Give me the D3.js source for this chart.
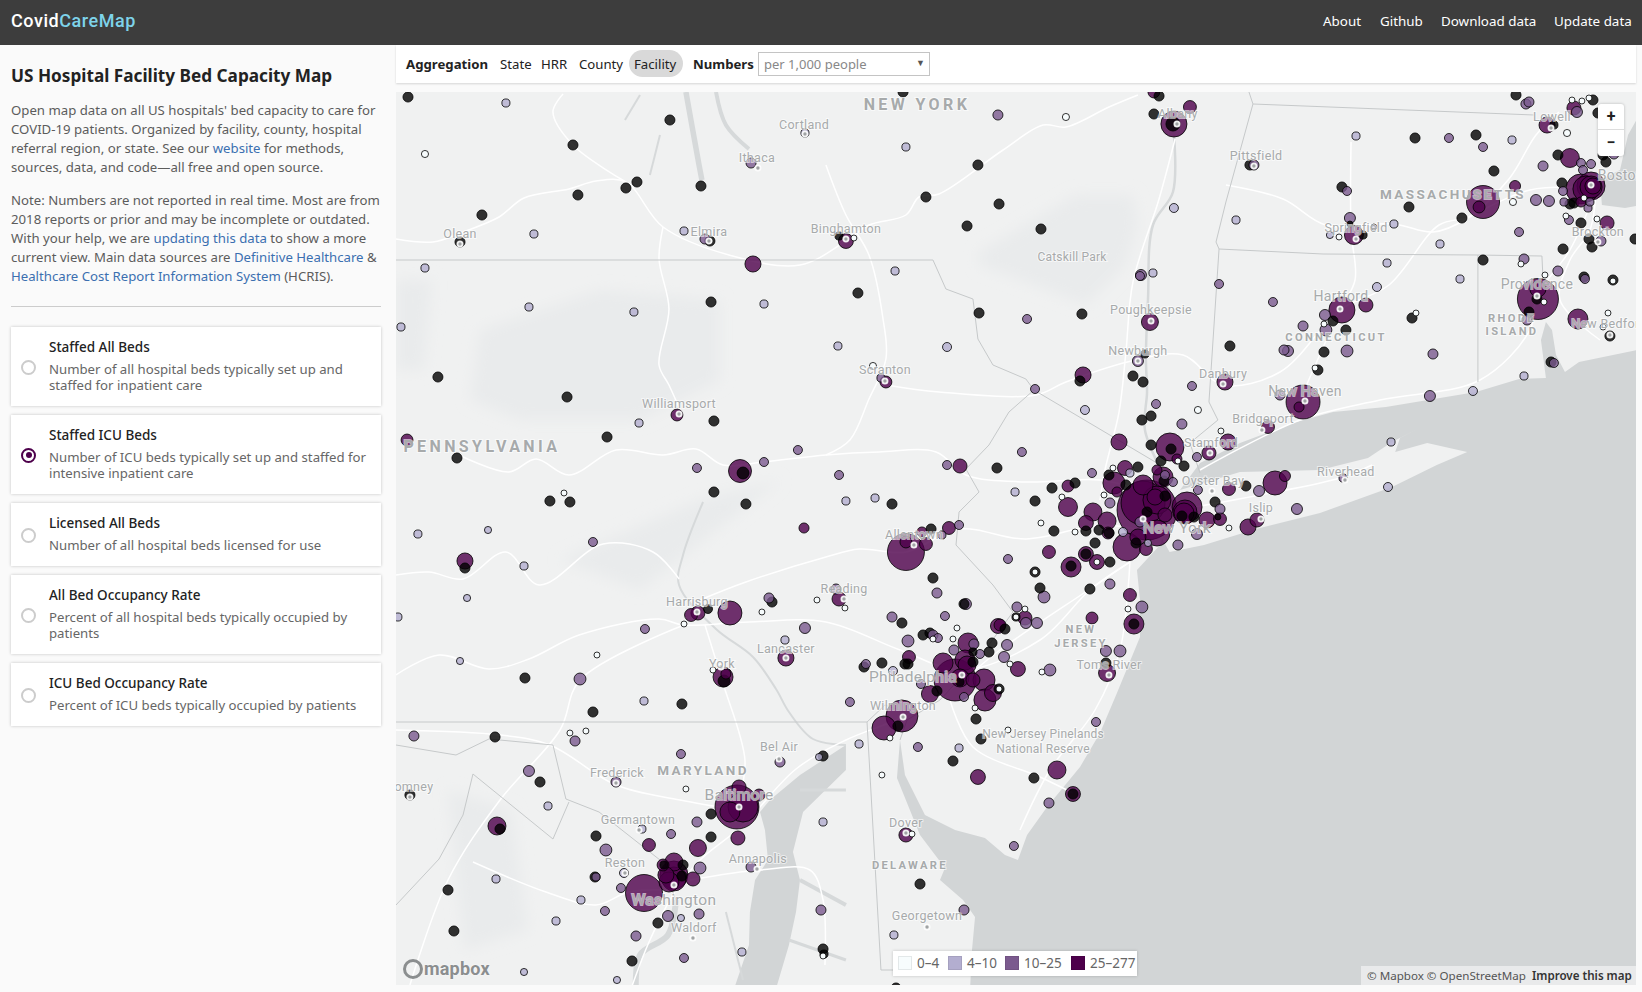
<!DOCTYPE html>
<html>
<head>
<meta charset="utf-8">
<title>CovidCareMap</title>
<script src="https://cdn.jsdelivr.net/npm/d3@7"></script>
<style>
  html, body { margin: 0; padding: 0; width: 1642px; height: 992px; overflow: hidden; background: #fafafa;
    font-family: "Noto Sans", sans-serif; color: #555; }
  #map { position: absolute; left: 0; top: 0; }
  #header { position: absolute; left: 0; top: 0; width: 1642px; height: 45px; background: #3d3d3d; }
  #logo { position: absolute; left: 11px; top: 10px; font: 500 18px Roboto, sans-serif; letter-spacing: 0.55px; color: #fff; }
  #logo span { color: #7ed3ea; }
  #nav a { position: absolute; top: 12px; color: #fff; font-size: 13.4px; }
  #side { position: absolute; left: 0; top: 45px; width: 396px; height: 947px; background: #fafafa; }
  #side h1 { position: absolute; left: 11px; top: 19px; margin: 0; font-size: 17.2px; font-weight: 700; color: #222; white-space: nowrap; }
  .para { position: absolute; left: 11px; font-size: 13.2px; line-height: 19px; white-space: nowrap; color: #5c5c5c; }
  .para a { color: #3b6fb0; }
  #rule { position: absolute; left: 11px; top: 261px; width: 370px; height: 1px; background: #ccc; }
  .card { position: absolute; left: 11px; width: 370px; background: #fff; box-shadow: 0 0 3px rgba(0,0,0,.22); }
  .card b { position: absolute; left: 38px; top: 11px; font-size: 13.5px; font-weight: 500; color: #222; white-space: nowrap; }
  .card p { position: absolute; left: 38px; top: 34px; margin: 0; font-size: 13.2px; line-height: 16px; color: #666; white-space: nowrap; }
  .radio { position: absolute; left: 10px; width: 11px; height: 11px; border: 2px solid #ccc; border-radius: 50%; }
  .radio.on { border-color: #4d004b; }
  .radio.on::after { content: ""; position: absolute; left: 2.5px; top: 2.5px; width: 6px; height: 6px; border-radius: 50%; background: #4d004b; }
  #bar { position: absolute; left: 396px; top: 45px; width: 1240px; height: 38px; background: #fff; box-shadow: 0 1px 2px rgba(0,0,0,.15); font-size: 13.2px; color: #222; }
  #bar span { position: absolute; top: 10px; white-space: nowrap; }
  #pill { position: absolute; left: 233px; top: 5px; width: 54px; height: 27px; border-radius: 14px; background: #d9d9d9; }
  #select { position: absolute; left: 362px; top: 7px; width: 170px; height: 22px; border: 1px solid #c4c4c4; color: #888; font-size: 13px; line-height: 22px; text-indent: 5px; }
  #select i { position: absolute; right: 4px; top: -1px; font-style: normal; font-size: 9px; color: #555; }
  #zoomctl { position: absolute; left: 1598px; top: 104px; width: 26px; height: 52px; background: #fff; border-radius: 3px; box-shadow: 0 0 3px rgba(0,0,0,.25); color: #222; font: 700 16px/26px Roboto, sans-serif; text-align: center; }
  #zoomctl div { height: 26px; }
  #zoomctl div:first-child { border-bottom: 1px solid #ddd; height: 25px; }
  #legend { position: absolute; left: 893px; top: 951px; width: 244px; height: 25px; background: #fff; box-shadow: 0 0 3px rgba(0,0,0,.2); font-size: 13.5px; color: #666; }
  #legend i { position: absolute; top: 5px; width: 14px; height: 14px; }
  #legend span { position: absolute; top: 3px; white-space: nowrap; }
  #attrib { position: absolute; left: 1361px; top: 966px; width: 275px; height: 19px; background: rgba(255,255,255,.5); font-size: 11.6px; line-height: 19px; color: #555; text-indent: 6px; white-space: nowrap; }
  #attrib b { color: #333; font-weight: 600; }
  #logoMb { position: absolute; left: 402px; top: 958px; font: 700 18px Roboto, sans-serif; color: #8b8e8f; letter-spacing: .2px; text-shadow: 0 0 2px #fff; }
</style>
</head>
<body>
<svg id="map" width="1642" height="992"></svg>

<div id="header">
  <div id="logo">Covid<span>CareMap</span></div>
  <div id="nav">
    <a style="left:1323px">About</a><a style="left:1380px">Github</a><a style="left:1441px">Download data</a><a style="left:1554px">Update data</a>
  </div>
</div>

<div id="side">
  <h1>US Hospital Facility Bed Capacity Map</h1>
  <div class="para" style="top:56px">Open map data on all US hospitals' bed capacity to care for<br>COVID-19 patients. Organized by facility, county, hospital<br>referral region, or state. See our <a>website</a> for methods,<br>sources, data, and code—all free and open source.</div>
  <div class="para" style="top:146px">Note: Numbers are not reported in real time. Most are from<br>2018 reports or prior and may be incomplete or outdated.<br>With your help, we are <a>updating this data</a> to show a more<br>current view. Main data sources are <a>Definitive Healthcare</a> &amp;<br><a>Healthcare Cost Report Information System</a> (HCRIS).</div>
  <div id="rule"></div>
  <div id="cards"></div>
</div>

<div id="bar">
  <span style="left:10px;font-weight:700">Aggregation</span>
  <span style="left:104px">State</span>
  <span style="left:145px">HRR</span>
  <span style="left:183px">County</span>
  <div id="pill"></div>
  <span style="left:238px">Facility</span>
  <span style="left:297px;font-weight:700">Numbers</span>
  <div id="select">per 1,000 people<i>▼</i></div>
</div>

<div id="zoomctl"><div>+</div><div>−</div></div>
<div id="logoMb"></div>
<div id="legend"></div>
<div id="attrib">© Mapbox © OpenStreetMap &nbsp;<b>Improve this map</b></div>

<script>
// hospitals by ICU bed rate class, rows are [lon, lat, beds]
const rateMissing = [
  [-78.85,42.865,20],[-77.819,42.625,20],[-77.213,42.75,20],[-77.419,42.44,20],[-77.488,42.41,20],[-77.788,42.375,20],
  [-77.019,42.42,20],[-78.388,42.275,20],[-76.956,41.84,20],[-78.663,41.465,20],[-77.856,41.365,20],[-78.525,42.14,20],
  [-76.963,42.145,20],[-75.756,42.89,20],[-75.288,42.525,20],[-75.613,42.365,20],[-75.156,42.33,20],[-75.356,42.22,20],
  [-74.894,42.205,20],[-76.156,42.17,13],[-76.038,41.885,20],[-75.281,41.785,20],[-74.638,41.78,20],[-74.244,41.58,13],
  [-74.65,41.445,20],[-74.319,41.47,20],[-74.256,41.44,20],[-73.713,41.62,20],[-74.069,42.73,39],[-74.188,42.78,20],
  [-74.156,42.87,20],[-73.588,42.525,20],[-72.556,42.66,20],[-72.175,42.675,20],[-71.925,42.875,20],[-71.444,42.85,20],
  [-71.413,42.785,20],[-71.688,42.725,13],[-71.663,42.575,20],[-71.363,42.54,20],[-71.381,42.575,20],[-72.063,42.495,20],
  [-71.638,42.435,20],[-71.588,42.33,20],[-71.563,42.335,20],[-73.013,42.415,20],[-72.963,42.23,7],[-72.881,42.175,13],
  [-72.594,42.315,20],[-72.263,42.26,20],[-71.519,42.235,20],[-71.181,42.155,20],[-71.469,42.155,20],[-71.45,42.115,20],
  [-71.631,42.105,20],[-72.131,42.05,20],[-71.5,41.965,20],[-71.319,41.95,20],[-71.794,41.855,20],[-71.844,41.79,20],
  [-71.338,41.67,20],[-71.706,41.54,20],[-73.069,41.745,20],[-72.988,41.7,20],[-72.575,41.76,20],[-73.125,41.59,20],
  [-73.163,41.5,20],[-78.544,41.06,20],[-77.606,41.165,20],[-76.938,41.245,20],[-76.756,40.985,28],[-76.938,40.89,20],
  [-76.738,40.83,20],[-77.963,40.845,20],[-77.838,40.84,20],[-78.494,40.51,20],[-78.119,39.96,20],[-77.138,39.83,20],
  [-77.694,39.79,20],[-76.975,40.305,16],[-76.575,40.34,20],[-76.875,39.945,28],[-78.306,39.665,20],[-78.025,39.44,20],
  [-78.838,39.375,20],[-78.275,39.205,20],[-77.675,39.17,20],[-76.956,39.28,20],[-76.956,39.165,20],[-76.256,39.57,20],
  [-77.131,39.025,20],[-77.25,39.025,13],[-77.138,38.97,20],[-77.681,38.965,20],[-78.6,38.9,20],[-77.288,38.735,20],
  [-78.563,38.695,20],[-77.45,38.545,20],[-76.256,38.605,20],[-76.25,38.58,13],[-75.65,38.93,20],[-75.8,38.41,20],
  [-75.825,40.83,20],[-75.169,41.01,20],[-75.581,40.705,20],[-75.569,40.46,20],[-74.263,41.25,20],[-74.206,41.27,20],
  [-74.206,41.125,20],[-74.081,41.105,20],[-74.144,41.045,20],[-74,41.02,20],[-74.288,41.015,20],[-74.469,40.975,20],
  [-74.363,40.925,20],[-74.681,40.935,20],[-74.825,40.91,20],[-74.931,40.845,20],[-74.119,40.87,20],[-74.125,40.945,20],
  [-73.613,40.92,20],[-73.806,40.84,20],[-73.788,40.765,7],[-74.013,40.77,20],[-73.938,40.765,20],[-74.3,40.635,20],
  [-74.231,40.79,20],[-74.531,40.7,20],[-74.469,40.685,20],[-74.613,40.695,20],[-74.813,40.695,20],[-74.556,40.635,20],
  [-74.613,40.58,20],[-74.463,40.54,20],[-74.706,40.52,20],[-74.931,40.49,20],[-74.9,40.41,20],[-74.588,40.405,20],
  [-74.313,40.23,20],[-75.05,40.265,13],[-75.119,40.205,20],[-75.763,40.235,20],[-75.375,40.33,20],[-75.631,40.175,20],
  [-75.588,40.185,20],[-75.725,40.03,20],[-75.744,40.03,20],[-75.888,40.035,20],[-76,40.015,20],[-75.319,40.04,20],
  [-75.319,40.09,13],[-75.2,40.135,20],[-75.219,40.09,20],[-75.4,39.94,13],[-75.156,39.905,20],[-75.544,39.895,20],
  [-75.3,39.755,20],[-75.788,39.72,20],[-75.269,39.655,20],[-75.444,39.545,20],[-74.938,39.46,20],[-74.694,39.38,20],
  [-74.488,40.035,20]
];
const rate0to4 = [
  [-78.744,42.58,10],[-76.963,42.145,7],[-74.738,42.765,10],[-76.063,42.16,7],[-75.944,41.52,10],[-73.913,41.3,10],
  [-71.575,42.85,7],[-71.513,42.845,7],[-71.469,42.86,7],[-71.606,42.685,10],[-71.944,42.34,10],[-71.5,42.36,7],
  [-73.031,42.165,7],[-71.613,42.27,7],[-71.419,42.255,7],[-71.894,42.03,7],[-71.744,41.975,7],[-71.319,41.945,7],
  [-71.75,41.84,7],[-71.35,41.785,7],[-71.381,41.715,7],[-73.125,41.73,7],[-72.55,41.785,7],[-73.181,41.51,7],
  [-77.875,40.885,7],[-77.669,40.075,7],[-77.125,40.23,7],[-76.638,40.29,7],[-76.294,40.35,7],[-76.944,40,7],
  [-77.838,39.685,7],[-77.738,39.695,7],[-77.113,39.405,7],[-76.256,38.57,7],[-74.994,40.305,7],[-76.119,40.31,7],
  [-73.769,41.195,7],[-74.038,41.045,7],[-74.444,41.01,7],[-74.763,40.865,7],[-74.5,40.875,7],[-73.719,40.71,7],
  [-74.681,40.69,7],[-74.894,40.735,7],[-74.544,40.54,7],[-74.931,40.49,7],[-74.35,40.305,7],[-75.05,40.265,7],
  [-75.419,40.21,7],[-75.444,40.155,7],[-75.569,40.155,7],[-75.088,40.03,7],[-74.888,39.99,7],[-75.156,39.905,7],
  [-75.306,39.81,7],[-75.838,39.66,7],[-75.1,39.7,7],[-75.888,39.475,7],[-75.7,39.18,7]
];
const rate4to10 = [
  [-78.238,42.835,13],[-78.063,42.18,13],[-77.125,42.195,13],[-78.744,42.01,13],[-78.094,41.815,13],[-77.438,41.79,13],
  [-78.894,41.715,13],[-76.625,41.83,13],[-76.369,42.685,13],[-75.738,42.615,13],[-75.806,41.995,13],[-76.163,41.62,13],
  [-75.481,41.615,16],[-74.063,42.31,16],[-73.675,42.25,13],[-74.194,41.985,13],[-74.619,41.3,16],[-72.925,42.67,13],
  [-71.95,42.65,13],[-73.088,42.175,10],[-72.813,42.215,7],[-72.688,42.23,13],[-72.4,42.13,13],[-72.731,42.035,13],
  [-72.275,41.955,13],[-72.794,41.915,16],[-71.875,41.47,13],[-72.194,41.395,16],[-72.706,41.14,13],[-72.725,40.915,16],
  [-77.406,41.235,13],[-78.788,40.68,13],[-78.35,40.7,10],[-78.125,40.52,13],[-78.481,40.36,10],[-78.913,40.265,13],
  [-78.525,40.045,10],[-76.494,40.15,13],[-77.375,39.845,13],[-77.975,39.32,13],[-77.388,39.205,13],[-76.281,39.565,10],
  [-76.256,39.24,13],[-77.5,38.985,16],[-78.3,38.955,13],[-77.769,38.85,13],[-77.925,38.745,13],[-77.144,38.76,10],
  [-76.763,38.59,13],[-78.125,38.49,10],[-77.544,38.45,10],[-75.813,38.675,13],[-75.056,40.89,13],[-76.113,40.845,13],
  [-75.931,40.86,13],[-74.338,40.985,13],[-74.225,40.635,10],[-74.381,40.69,16],[-76.031,39.63,13],[-75.406,39.61,13],
  [-75.819,39.995,16]
];
const rate10to25 = [
  [-76.994,42.155,20],[-76.706,42.535,20],[-75.163,42.775,20],[-74.981,41.755,16],[-75.894,41.46,13],[-73.781,41.93,16],
  [-74.269,41.975,24],[-74.275,41.97,16],[-74.288,41.545,24],[-73.95,41.42,16],[-74.931,41.405,16],[-74.175,41.33,16],
  [-73.563,42.525,20],[-72.344,42.66,16],[-72.131,42.615,16],[-71.863,42.83,20],[-71.844,42.84,20],[-71.544,42.79,24],
  [-71.519,42.535,16],[-71.456,42.53,16],[-71.313,42.58,20],[-71.756,42.52,20],[-71.8,42.35,24],[-71.719,42.345,24],
  [-71.631,42.395,16],[-71.625,42.34,13],[-71.475,42.31,13],[-71.463,42.34,13],[-71.506,42.5,16],[-72.981,42.395,16],
  [-72.963,42.26,24],[-71.906,42.19,16],[-71.594,42.25,16],[-71.394,42.145,20],[-71.875,42.055,20],[-71.663,41.995,20],
  [-71.494,41.955,16],[-71.856,41.75,20],[-71.688,41.535,16],[-72.463,41.37,24],[-72.444,41.58,20],[-73.119,41.775,24],
  [-73.113,41.7,28],[-73.256,41.72,20],[-73.444,41.84,16],[-73.375,41.6,20],[-73.35,41.595,24],[-72.981,41.595,28],
  [-73.4,41.375,20],[-73.006,40.96,13],[-73.294,40.805,24],[-76.413,41.1,16],[-76.625,41.04,16],[-77.044,41.01,16],
  [-77.694,40.64,16],[-76.594,40.36,20],[-76.369,40.21,24],[-77.775,39.955,28],[-77.369,40.205,16],[-78.813,39.67,20],
  [-77.806,39.645,20],[-78.094,39.495,24],[-77.613,39.1,28],[-77.55,39.44,20],[-77.206,39.18,16],[-77.144,39.58,16],
  [-77.044,39.24,20],[-76.525,39.54,20],[-76.706,39.015,20],[-77.025,39.01,28],[-77.519,38.91,16],[-77.675,38.965,13],
  [-77.619,38.795,16],[-77.225,38.77,24],[-77.031,38.78,20],[-77.425,38.67,20],[-77.125,38.56,16],[-76.269,38.8,20],
  [-75.375,38.8,20],[-76.156,40.975,16],[-75.481,41.025,16],[-75.013,41.09,16],[-75.406,40.725,16],[-75.513,40.675,13],
  [-75.1,40.555,16],[-75.544,40.385,20],[-75.363,40.33,24],[-75.044,40.315,20],[-76.175,40.405,20],[-74.013,41.23,20],
  [-73.919,41.065,16],[-74.575,40.985,16],[-74.119,40.975,16],[-74.069,40.94,16],[-73.913,40.9,16],[-73.531,40.895,24],
  [-73.775,40.805,20],[-73.919,40.68,24],[-74.038,40.625,20],[-74.275,40.74,20],[-74.463,40.835,20],[-74.875,40.365,28],
  [-74.463,40.43,20],[-74.263,40.315,28],[-74.988,40.235,24],[-74.919,40.235,24],[-75.825,40.265,20],[-75.494,40.27,16],
  [-75.569,40.175,20],[-75.538,40.16,16],[-75.725,40.145,28],[-75.988,40.03,16],[-75.438,40.1,20],[-75.313,40.13,20],
  [-75.275,40.08,16],[-75.106,40.125,24],[-75.125,40.065,24],[-74.838,40,28],[-75.375,39.865,16],[-75.644,39.93,16],
  [-76.088,39.84,16],[-75.663,39.615,16],[-74.844,39.335,20],[-74.55,39.74,16],[-74.488,40.095,24],[-74.4,40.095,28],
  [-75.063,39.12,16]
];
const rate25up = [
  [-76.694,42.03,51],[-76.113,42.145,44],[-75.863,41.44,28],[-74.213,41.74,57],[-74.631,41.475,51],[-73.744,41.44,51],
  [-74.063,42.73,134],[-73.963,42.815,33],[-74.188,42.89,28],[-71.563,42.81,39],[-71.731,42.725,51],[-71.588,42.56,71],
  [-71.931,42.42,24],[-72.131,42.34,215],[-72.156,42.315,28],[-71.519,42.405,178],[-71.456,42.42,155],[-71.488,42.405,134],
  [-71.456,42.415,96],[-71.444,42.42,51],[-71.519,42.34,20],[-72.938,42.175,71],[-71.356,42.235,39],[-71.788,41.855,332],
  [-71.788,41.905,51],[-71.538,41.755,79],[-73.013,41.8,134],[-72.863,41.825,39],[-73.256,41.34,228],[-73.281,41.315,20],
  [-78.856,41.15,28],[-77.169,41.275,28],[-76.775,40.995,104],[-78.494,40.545,51],[-76.375,40.71,20],[-77.081,40.275,33],
  [-77.038,40.285,39],[-76.838,40.285,114],[-76.488,40.06,51],[-76.881,39.965,79],[-76.863,39.98,20],[-78.294,39.22,64],
  [-77.344,39.125,33],[-77.038,39.11,57],[-76.788,39.16,39],[-76.794,39.315,382],[-76.756,39.315,178],[-76.781,39.415,39],
  [-76.656,39.375,28],[-76.838,39.29,79],[-77.375,38.885,270],[-77.188,38.975,155],[-77.188,38.955,114],[-77.188,39.04,64],
  [-77.069,38.955,39],[-77.256,39.025,28],[-77.219,38.94,79],[-77.238,38.975,51],[-75.738,39.175,39],[-75.4,41.02,39],
  [-75.469,40.71,33],[-75.638,40.69,20],[-75.738,40.59,270],[-75.738,40.64,28],[-75.613,40.63,33],[-76.156,40.355,39],
  [-73.725,41.14,51],[-73.475,41.215,33],[-74.406,41.14,51],[-74.088,41.115,155],[-74.044,41.055,20],[-73.844,41.085,39],
  [-74.369,41.01,44],[-74.169,41,20],[-74.438,40.935,96],[-74.419,40.89,20],[-74.725,40.92,28],[-74.231,40.8,711],
  [-74.256,40.835,382],[-74.169,40.85,155],[-74.181,40.865,51],[-74.131,40.965,79],[-74.256,40.925,79],[-73.719,40.905,33],
  [-73.431,40.935,114],[-73.369,40.97,24],[-73.775,40.755,33],[-73.981,40.815,178],[-73.994,40.79,114],[-74,40.785,79],
  [-73.856,40.75,51],[-73.6,40.715,51],[-73.544,40.75,39],[-74.356,40.615,155],[-74.238,40.605,33],[-74.288,40.665,51],
  [-74.119,40.775,39],[-74.169,40.685,134],[-74.725,40.815,71],[-74.569,40.79,64],[-74.613,40.735,44],[-74.481,40.745,64],
  [-74.475,40.685,28],[-74.844,40.59,33],[-74.613,40.58,44],[-74.544,40.54,44],[-74.706,40.515,79],[-74.338,40.375,33],
  [-74.575,40.26,28],[-74.313,40.23,79],[-74.994,40.26,39],[-75.15,40.225,28],[-75.163,40.22,44],[-75.719,40.065,33],
  [-75.431,39.95,348],[-75.506,40.035,79],[-75.35,40.135,79],[-75.369,40.05,79],[-75.356,40.025,64],[-75.038,40.005,44],
  [-75.25,39.95,96],[-75.319,39.95,39],[-75.4,39.96,64],[-75.244,39.85,96],[-75.194,39.885,57],[-75.588,39.88,57],
  [-75.763,39.77,202],[-75.875,39.71,114],[-75.288,39.465,44],[-74.794,39.5,64],[-74.694,39.38,44],[-74.481,39.985,57]
];

// legend classes
const legendLabels = ["0–4", "4–10", "10–25", "25–277"];
const legendColors = ["#f7fcfd", "#b3aed0", "#7b5a8e", "#4d004b"];
const legendStarts = [5, 55, 112, 178];

// cards on the left
const cardTitles = ["Staffed All Beds", "Staffed ICU Beds", "Licensed All Beds", "All Bed Occupancy Rate", "ICU Bed Occupancy Rate"];
const cardTexts = [
  "Number of all hospital beds typically set up and<br>staffed for inpatient care",
  "Number of ICU beds typically set up and staffed for<br>intensive inpatient care",
  "Number of all hospital beds licensed for use",
  "Percent of all hospital beds typically occupied by<br>patients",
  "Percent of ICU beds typically occupied by patients"
];
const cardTops = [282, 370, 458, 530, 618];
const cardHeights = [79, 79, 63, 79, 63];

// base map, all [lon, lat]
const oceanCoast = [
  [-71.138,41.605],[-71.531,41.54],[-71.619,41.49],[-71.675,41.575],[-71.7,41.7],[-71.738,41.74],[-71.769,41.65],[-71.738,41.46],
  [-71.906,41.455],[-72.175,41.39],[-72.738,41.315],[-73.069,41.29],[-73.319,41.235],[-73.65,41.135],[-73.9,41.035],[-74.025,40.9],
  [-74.075,40.8],[-74.15,40.625],[-74.294,40.5],[-74.275,40.35],[-74.275,40.165],[-74.419,39.885],[-74.525,39.685],[-74.65,39.515],
  [-74.856,39.315],[-74.981,39.175],[-75.038,39.05],[-75.119,39.075],[-75.244,39.16],[-75.431,39.2],[-75.619,39.275],[-75.744,39.475],
  [-75.775,39.65],[-75.794,39.46],[-75.65,39.175],[-75.494,39.01],[-75.525,38.95],[-75.381,38.85],[-75.306,38.765],[-75.325,38.6],
  [-75.338,38.39],[-71.138,38.39]
];
const bostonBay = [[-71.138,42.8],[-71.225,42.675],[-71.275,42.5],[-71.4,42.45],[-71.388,42.325],[-71.244,42.31],[-71.138,42.325]];
const chesapeake = [
  [-76.113,39.625],[-76.4,39.475],[-76.588,39.35],[-76.65,39.29],[-76.619,39.2],[-76.6,39.05],[-76.681,38.95],[-76.713,38.79],
  [-76.719,38.625],[-76.819,38.39],[-76.556,38.39],[-76.469,38.625],[-76.425,38.79],[-76.4,38.95],[-76.444,39.09],[-76.381,39.29],[-76.113,39.5]
];
const landCover = [
  [[-75.281,42.09],[-74.675,42.375],[-74.319,42.375],[-74.288,42.225],[-74.363,42.025],[-74.613,41.825],[-74.988,41.94],[-75.281,42.025]],
  [[-78.4,41.7],[-77.65,41.9],[-76.9,41.85],[-76.9,41.45],[-77.4,41.25],[-78.15,41.25],[-78.463,41.35]],
  [[-77.9,40.55],[-77.025,40.85],[-76.525,40.95],[-77.4,40.4]],
  [[-78.925,41.95],[-78.7,41.95],[-78.75,41.5],[-78.925,41.5]],
  [[-78.6,39.4],[-78.2,39.3],[-78.1,38.7],[-78.5,38.6]]
];
const longIsland = [
  [-74.125,40.775],[-74.025,40.9],[-73.65,40.99],[-73.15,41],[-72.85,41.06],[-72.7,41.14],[-72.53,41.21],[-72.65,41.16],[-72.68,41.09],
  [-72.48,41.135],[-72.23,41.09],[-72.42,41.025],[-72.7,40.915],[-73.15,40.785],[-73.55,40.705],[-73.875,40.625],[-74.09,40.59],[-74.15,40.675]
];
const waterLines = [
  [[-74.063,42.675],[-74.069,42.39],[-74.194,42.225],[-74.225,41.855],[-74.238,41.555],[-74.231,41.39],[-74.244,41.2],[-74.119,40.95],[-74.038,40.75]],
  [[-77.006,40.84],[-77.131,40.575],[-77.156,40.425],[-76.925,40.205],[-76.694,40.065],[-76.55,39.905],[-76.469,39.79],[-76.319,39.655],[-76.113,39.625]],
  [[-77.175,38.85],[-77.225,38.675],[-77.4,38.575],[-77.425,38.39]],
  [[-77.113,42.89],[-77.031,42.525],[-77.013,42.45]],
  [[-76.925,42.89],[-76.863,42.725],[-76.719,42.605]],
  [[-77.4,42.875],[-77.494,42.75]],
  [[-77.275,42.675],[-77.338,42.475]],
  [[-76.4,39.4],[-76.113,39.4]],
  [[-76.4,38.95],[-76.113,38.825]],
  [[-76.469,38.65],[-76.113,38.55]],
  [[-76.863,38.79],[-76.756,38.45]]
];
const waterWidths = [2.5, 2, 6, 5.5, 4, 2, 2, 3, 4, 3, 2];
const stateLines = [
  [[-78.925,42.05],[-75.569,42.05],[-75.488,41.905],[-75.319,41.855],[-75.288,41.655],[-75.194,41.525],[-74.988,41.455],[-74.938,41.4]],
  [[-74.938,41.4],[-74.169,41.035]],
  [[-74.938,41.4],[-75.094,41.29],[-75.219,41.125],[-75.363,41.005],[-75.281,40.89],[-75.406,40.79],[-75.425,40.625],[-75.194,40.425],[-75.069,40.29],[-75.275,40.065],[-75.525,39.85],[-75.731,39.75],[-75.775,39.65]],
  [[-78.925,39.74],[-75.981,39.74],[-75.869,39.825],[-75.744,39.79]],
  [[-75.981,39.74],[-75.894,38.5],[-75.325,38.5]],
  [[-73.594,42.89],[-73.569,42.83],[-73.738,42.34],[-73.8,42.14],[-73.781,42.105],[-73.844,41.34],[-73.788,41.25],[-73.963,41.135],[-73.9,40.985]],
  [[-73.569,42.83],[-71.813,42.775]],
  [[-73.781,42.105],[-73.131,42.08],[-72.163,42.075]],
  [[-72.163,42.075],[-72.163,41.44]],
  [[-72.163,42.075],[-71.763,42.07],[-71.756,41.955]],
  [[-78.925,39.625],[-78.55,39.575],[-78.344,39.655],[-77.944,39.625],[-77.863,39.355],[-77.656,39.29],[-77.275,39.05],[-77.175,38.85]],
  [[-78.925,38.825],[-78.656,39.055],[-78.506,39.275],[-78.444,39.48],[-77.944,39.155],[-77.844,39.34]]
];
const roads = [
  [[-78.925,42.155],[-78.694,42.14],[-78.506,42.19],[-78.281,42.265],[-78.125,42.36],[-77.844,42.405],[-77.675,42.445],[-77.488,42.44],[-77.256,42.215],[-76.844,42.075],[-76.4,42.025],[-76.113,42.145],[-75.969,42.225],[-75.738,42.275],[-75.656,42.365],[-75.531,42.38],[-75.131,42.6],[-74.881,42.725],[-74.738,42.715],[-74.469,42.815],[-74.288,42.875]],
  [[-77.488,42.44],[-77.819,42.625],[-77.944,42.79],[-77.881,42.88]],
  [[-77.256,42.215],[-77.281,42.055],[-77.219,41.805],[-77.281,41.525],[-77.219,41.425],[-77.138,41.28]],
  [[-76.238,42.525],[-76.113,42.275],[-75.969,42.075],[-75.881,41.755],[-75.863,41.555],[-75.969,41.355],[-76.088,41.15],[-76.238,41.075]],
  [[-74.056,42.655],[-74.156,42.355],[-74.319,41.94],[-74.363,41.59],[-74.406,41.29],[-74.494,41],[-74.525,40.85]],
  [[-75.863,41.425],[-75.531,41.39],[-74.925,41.375],[-74.738,41.44],[-74.3,41.55],[-74.006,41.575],[-73.756,41.425],[-73.4,41.49],[-73.025,41.8],[-72.719,41.925],[-72.406,42.225],[-72.238,42.255]],
  [[-73.738,42.425],[-73.381,42.355],[-73.113,42.225],[-72.688,42.23],[-72.444,42.19],[-72.238,42.255],[-71.969,42.455],[-71.8,42.675],[-71.656,42.79]],
  [[-72.238,42.255],[-71.838,42.4],[-71.425,42.41]],
  [[-72.956,42.64],[-72.956,42.2],[-72.931,41.95],[-73.025,41.8],[-73.275,41.35]],
  [[-73.9,41],[-73.275,41.25],[-72.775,41.35],[-72.15,41.45],[-71.838,41.7],[-71.794,41.87],[-71.588,42.1],[-71.425,42.4]],
  [[-78.925,40.475],[-78.719,40.49],[-78.506,40.455],[-78.238,40.59],[-78.031,40.425],[-77.631,40.63],[-77.319,40.59],[-77.156,40.455]],
  [[-78.531,41.075],[-78.219,40.99],[-78.05,41.055],[-77.844,40.975],[-77.55,41.1],[-77.256,41.075],[-77.05,41.105],[-76.881,41.025],[-76.631,41.04],[-76.238,41.075],[-75.906,41.09],[-75.55,41.09],[-75.363,40.975],[-74.988,40.94],[-74.525,40.95],[-74.275,40.9]],
  [[-78.925,39.975],[-78.656,40.075],[-78.344,40.005],[-78.094,40.055],[-77.781,40.175],[-77.281,40.255],[-77.131,40.225],[-76.719,40.24],[-76.238,40.24],[-75.775,40.1],[-75.388,40],[-74.9,40.15],[-74.588,40.4],[-74.338,40.54]],
  [[-77.025,40.35],[-76.738,40.44],[-76.238,40.565],[-76.031,40.605],[-75.738,40.59],[-75.406,40.705],[-74.988,40.655],[-74.525,40.725],[-74.275,40.7]],
  [[-74.338,40.54],[-74.588,40.405],[-75.15,40.1],[-75.463,39.9],[-75.756,39.765],[-76.113,39.65],[-76.425,39.505],[-76.756,39.225],[-77.025,39.05],[-77.175,38.9],[-77.338,38.65],[-77.463,38.39]],
  [[-74.338,40.54],[-74.4,40.1],[-74.556,39.8],[-74.838,39.5],[-75.025,39.2]],
  [[-75.463,39.85],[-75.319,39.615],[-74.9,39.465],[-74.694,39.385]],
  [[-76.994,40.225],[-76.888,39.95],[-76.744,39.55],[-76.781,39.35]],
  [[-77.125,40.225],[-77.775,39.95],[-77.9,39.7],[-78.275,39.35],[-78.6,38.95],[-78.838,38.425]],
  [[-78.925,39.7],[-78.275,39.675],[-77.963,39.625],[-77.55,39.425],[-77.15,39.35],[-76.794,39.3]],
  [[-78.444,39.04],[-77.988,38.89],[-77.675,38.825],[-77.469,38.89],[-77.175,38.9]],
  [[-77.088,38.95],[-76.65,39],[-76.338,39],[-76.256,38.85],[-76.244,38.525]],
  [[-74.038,40.8],[-73.525,40.875],[-73.025,40.96],[-72.825,41.025]],
  [[-71.425,42.4],[-71.463,42.2],[-71.588,42.05],[-71.65,41.85],[-71.4,41.65]]
];

// places: name, label lon/lat, dot lon/lat
const places = [
  ["Olean",-78.525,42.18,-78.525,42.13],["Cortland",-76.375,42.725,-76.369,42.68],["Ithaca",-76.669,42.56,-76.663,42.51],
  ["Elmira",-76.969,42.19,-76.969,42.145],["Binghamton",-76.113,42.205,-76.113,42.155],["Albany",-74.038,42.78,-74.044,42.73],
  ["Pittsfield",-73.55,42.57,-73.563,42.52],["Poughkeepsie",-74.206,41.8,-74.206,41.745],["Newburgh",-74.288,41.595,-74.288,41.545],
  ["Danbury",-73.756,41.48,-73.756,41.43],["Scranton",-75.869,41.5,-75.869,41.445],["Springfield",-72.925,42.21,-72.925,42.155],
  ["Hartford",-73.019,41.87,-73.025,41.805],["New Haven",-73.244,41.395,-73.244,41.345],["Providence",-71.794,41.93,-71.794,41.87],
  ["Boston",-71.27,42.475,-71.456,42.425],["Lowell",-71.7,42.765,-71.706,42.71],["Brockton",-71.413,42.19,-71.413,42.14],
  ["New Bedford",-71.344,41.73,-71.338,41.675],["Williamsport",-77.156,41.33,-77.156,41.28],["Harrisburg",-77.044,40.34,-77.044,40.29],
  ["Lancaster",-76.488,40.105,-76.488,40.06],["York",-76.888,40.03,-76.894,40.015],["Reading",-76.125,40.405,-76.125,40.355],
  ["Allentown",-75.688,40.675,-75.688,40.625],["Philadelphia",-75.694,39.965,-75.388,39.975],["Wilmington",-75.756,39.82,-75.756,39.765],
  ["Toms River",-74.469,40.025,-74.469,39.975],["Dover",-75.738,39.235,-75.738,39.185],["New York",-74.044,40.71,-74.256,40.755],
  ["Oyster Bay",-73.819,40.945,-73.825,40.895],["Islip",-73.519,40.81,-73.519,40.755],["Stamford",-73.831,41.135,-73.838,41.085],
  ["Bridgeport",-73.506,41.255,-73.513,41.2],["Riverhead",-72.988,40.99,-72.994,40.95],["Frederick",-77.544,39.485,-77.55,39.435],
  ["Germantown",-77.413,39.25,-77.406,39.2],["Reston",-77.494,39.035,-77.494,38.985],["Washington",-77.188,38.85,-77.188,38.925],
  ["Baltimore",-76.781,39.375,-76.781,39.315],["Annapolis",-76.663,39.055,-76.669,39.005],["Bel Air",-76.531,39.615,-76.531,39.555],
  ["Waldorf",-77.063,38.71,-77.069,38.66],["Romney",-78.838,39.415,-78.838,39.365],["Georgetown",-75.606,38.77,-75.606,38.715]
];
const parkLabels = [["Catskill Park",-74.7,42.065],["New Jersey Pinelands",-74.881,39.68],["National Reserve",-74.881,39.605]];
const bigStates = [["NEW YORK",-75.669,42.83],["PENNSYLVANIA",-78.388,41.12]];
const midStates = [["MASSACHUSETTS",-72.319,42.38],["MARYLAND",-77.006,39.5]];
const smallStates = [
  ["CONNECTICUT",-73.05,41.665],["RHODE",-71.95,41.76],["ISLAND",-71.95,41.695],["NEW",-74.644,40.205],["JERSEY",-74.644,40.135],["DELAWARE",-75.713,39.025]
];
const bigCities = ["Philadelphia", "Washington", "New York", "Baltimore"];
const midCities = ["Providence", "Hartford", "Boston", "New Haven"];

const lonScale = d3.scaleLinear().domain([-81.4, -71.1375]).range([0, 1642]);
const latScale = d3.scaleLinear().domain([43.35, 38.39]).range([0, 992]);
const bedRadius = d3.scaleSqrt().domain([0, 1264]).range([0, 40]);
const rateColor = { missing: "#000", r0: "#f7fcfd", r1: "#b3aed0", r2: "#7b5a8e", r3: "#4d004b" };

const path = d3.line().x((d) => lonScale(d[0])).y((d) => latScale(d[1]));
const smooth = d3.line().x((d) => lonScale(d[0])).y((d) => latScale(d[1])).curve(d3.curveCatmullRom.alpha(0.5));
const closed = (pts) => path(pts) + "Z";

const svg = d3.select("#map");
svg.append("filter").attr("id", "soft").append("feGaussianBlur").attr("stdDeviation", 7);
svg.append("clipPath").attr("id", "mapClip").append("rect")
  .attr("x", 396).attr("y", 92).attr("width", 1240).attr("height", 893);
const g = svg.append("g").attr("clip-path", "url(#mapClip)");

g.append("rect").attr("x", 396).attr("y", 92).attr("width", 1240).attr("height", 893).attr("fill", "#f0f1f1");

// land cover
g.append("g").attr("filter", "url(#soft)").selectAll("path").data(landCover).join("path")
  .attr("d", closed).attr("fill", "#e9ebec");

// water
g.selectAll(".water").data([oceanCoast, bostonBay, chesapeake]).join("path")
  .attr("class", "water").attr("d", closed).attr("fill", "#d2d5d6");
g.append("path").attr("d", closed(longIsland)).attr("fill", "#f0f1f1");
g.selectAll(".river").data(waterLines).join("path")
  .attr("class", "river").attr("d", smooth).attr("fill", "none").attr("stroke", "#d6d9da")
  .attr("stroke-width", (d, i) => waterWidths[i]);

// roads and borders
g.selectAll(".road").data(roads).join("path")
  .attr("class", "road").attr("d", smooth).attr("fill", "none").attr("stroke", "#fff").attr("stroke-width", 1.5);
g.selectAll(".state").data(stateLines).join("path")
  .attr("class", "state").attr("d", path).attr("fill", "none").attr("stroke", "#c6c9ca").attr("stroke-width", 1);

// hospitals, big ones underneath
const hospitals = [
  ...rateMissing.map((d) => ({ d, rate: "missing" })),
  ...rate0to4.map((d) => ({ d, rate: "r0" })),
  ...rate4to10.map((d) => ({ d, rate: "r1" })),
  ...rate10to25.map((d) => ({ d, rate: "r2" })),
  ...rate25up.map((d) => ({ d, rate: "r3" })),
].sort((a, b) => b.d[2] - a.d[2]);

g.selectAll(".hospital").data(hospitals).join("circle")
  .attr("class", "hospital")
  .attr("cx", (h) => lonScale(h.d[0]))
  .attr("cy", (h) => latScale(h.d[1]))
  .attr("r", (h) => bedRadius(h.d[2]))
  .attr("fill", (h) => rateColor[h.rate])
  .attr("fill-opacity", (h) => (h.rate === "r0" ? 1 : 0.8))
  .attr("stroke", "#000")
  .attr("stroke-width", 0.8);

// place dots and names sit on top of the circles
g.selectAll(".dot").data(places).join("circle")
  .attr("class", "dot")
  .attr("cx", (p) => lonScale(p[3]))
  .attr("cy", (p) => latScale(p[4]))
  .attr("r", 2.6)
  .attr("fill", "#a0a3a4")
  .attr("stroke", "rgba(255,255,255,0.9)")
  .attr("stroke-width", 1.8);

function addLabels(cls, rows, size, weight, spacing) {
  g.selectAll("." + cls).data(rows).join("text")
    .attr("class", cls)
    .attr("x", (p) => lonScale(p[1]))
    .attr("y", (p) => latScale(p[2]))
    .attr("dy", "0.35em")
    .attr("text-anchor", "middle")
    .attr("font-family", "Roboto, sans-serif")
    .attr("font-size", size)
    .attr("font-weight", weight)
    .attr("letter-spacing", spacing)
    .attr("fill", "#a7aaab")
    .attr("stroke", "rgba(255,255,255,0.6)")
    .attr("stroke-width", 2)
    .attr("paint-order", "stroke")
    .text((p) => p[0]);
}
addLabels("city", places, (p) => (bigCities.includes(p[0]) ? 15.5 : midCities.includes(p[0]) ? 14 : 12.5), 400, 0.3);
addLabels("park", parkLabels, 12, 400, 0.2);
addLabels("stateBig", bigStates, 16, 700, 3.4);
addLabels("stateMid", midStates, 13.5, 700, 2.4);
addLabels("stateSmall", smallStates, 11.2, 700, 2.3);

// mapbox mark
d3.select("#logoMb").html('<svg width="22" height="22" style="vertical-align:-5px"><circle cx="11" cy="11" r="8.5" fill="none" stroke="#8b8e8f" stroke-width="3"/></svg>mapbox');

// cards
d3.select("#cards").selectAll(".card").data(cardTitles).join("div")
  .attr("class", "card")
  .style("top", (d, i) => cardTops[i] + "px")
  .style("height", (d, i) => cardHeights[i] + "px")
  .html((d, i) => `<div class="radio ${i === 1 ? "on" : ""}" style="top:${cardHeights[i] / 2 - 7}px"></div><b>${d}</b><p>${cardTexts[i]}</p>`);

// legend
const legend = d3.select("#legend");
legendLabels.forEach((label, i) => {
  legend.append("i").style("left", legendStarts[i] + "px").style("background", legendColors[i])
    .style("border", "1px solid rgba(0,0,0,.08)").style("box-sizing", "border-box");
  legend.append("span").style("left", legendStarts[i] + 19 + "px").text(label);
});
</script>
</body>
</html>
